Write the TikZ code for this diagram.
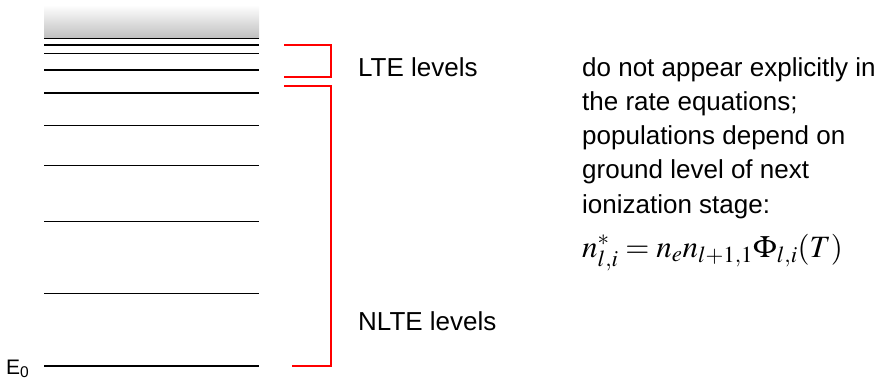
\documentclass[tikz,border=0pt]{standalone}
\usepackage{mathptmx}
\usepackage[no-math]{fontspec}
\setmainfont{Liberation Sans}
\begin{document}
\begin{tikzpicture}[x=1pt,y=-1pt,
  level/.style={line width=1.6pt},
  bracket/.style={red,line width=2pt},
  lbl/.style={anchor=base west,inner sep=0pt,font=\fontsize{26}{34}\selectfont}]
  \useasboundingbox (0,0) rectangle (886,389);
  % continuum and energy levels
  \shade[top color=white,bottom color=black!25] (44,5) rectangle (259,38);
  \foreach \y in {38.5,45,53.5,70,93,125.5,165.5,221.5,293.5,366}
    \draw[level] (44,\y) -- (259,\y);
  \node[lbl,font=\fontsize{21}{24}\selectfont] (ground) at (6,374) {E\textsubscript{0}};
  % brackets
  \draw[bracket] (284,45) -- (331,45) -- (331,77) -- (284,77);
  \draw[bracket] (284,85.5) -- (331,85.5) -- (331,366) -- (292,366);
  \node[lbl] (lte) at (358,76) {LTE levels};
  \node[lbl] (nlte) at (358,330) {NLTE levels};
  % explanation
  \foreach \i/\txt in {0/do not appear explicitly in, 1/the rate equations;,
      2/populations depend on, 3/ground level of next, 4/ionization stage:}
    \node[lbl] (expl\i) at (582,76+34.3*\i) {\txt};
  \node[lbl,font=\fontsize{31}{36}\selectfont] (saha) at (582,257)
    {$n^{*}_{l,i}=n_{e}n_{l+1,1}\Phi_{l,i}(T)$};
\end{tikzpicture}
\end{document}
